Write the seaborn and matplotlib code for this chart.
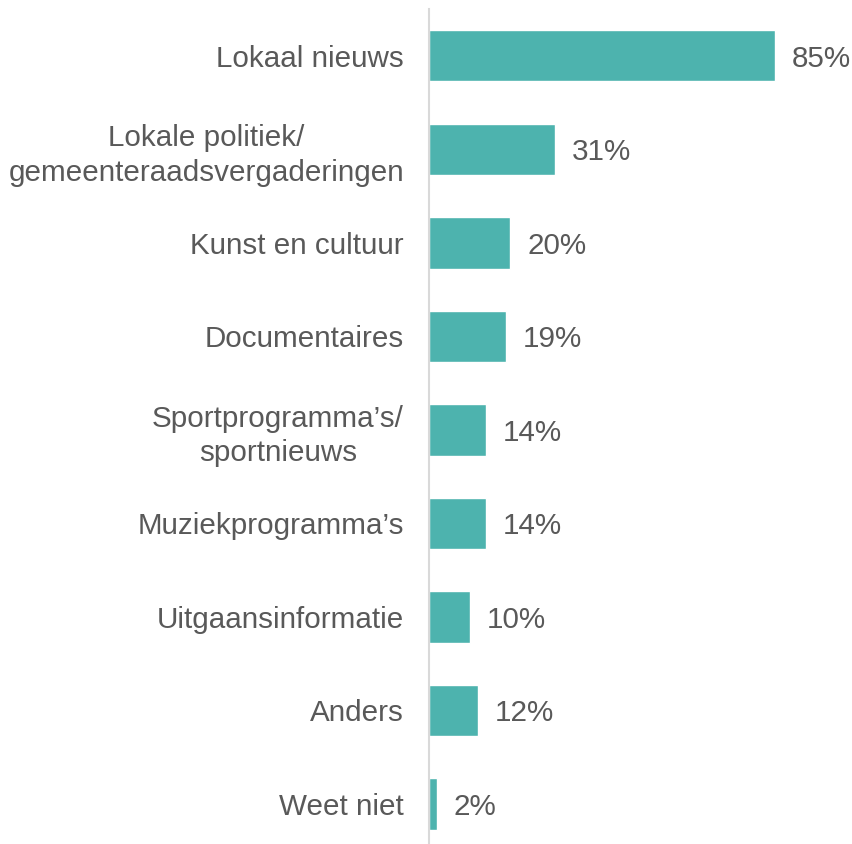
import matplotlib
matplotlib.use("Agg")
from matplotlib import pyplot as plt
import seaborn as sns
import pandas as pd

categories = ["Lokaal nieuws",
              "Lokale politiek/\ngemeenteraadsvergaderingen",
              "Kunst en cultuur",
              "Documentaires",
              "Sportprogramma\u2019s/\nsportnieuws",
              "Muziekprogramma\u2019s",
              "Uitgaansinformatie",
              "Anders",
              "Weet niet"]
values = [85, 31, 20, 19, 14, 14, 10, 12, 2]
value_labels = ["%d%%" % v for v in values]

sns.set_style("white")
plt.rcParams['font.family'] = ['Liberation Sans', 'DejaVu Sans']

df = pd.DataFrame({"cat": categories, "val": values})

fig = plt.figure(figsize=(8.53, 8.44), dpi=100)
ax = fig.add_axes([429 / 853, 0, 1 - 429 / 853, 835 / 844])
sns.barplot(data=df, x="val", y="cat", orient="h", color="#4DB3AE",
            saturation=1, width=0.55, ax=ax)

ax.set_xlim(0, 424 / 4.07)
ax.set_ylim(8 + 40 / 93.5, -0.5)
ax.set_xlabel("")
ax.set_ylabel("")
ax.set_xticks([])
for s in ["top", "right", "bottom"]:
    ax.spines[s].set_visible(False)
ax.spines["left"].set_color("#D9D9D9")
ax.spines["left"].set_linewidth(1.5)

ax.tick_params(axis="y", length=0, pad=18)
ax.set_yticks(range(len(categories)))
ax.set_yticklabels(categories, fontsize=21.3, color="#595959",
                   multialignment="center", linespacing=1.3)

for i, (v, lab) in enumerate(zip(values, value_labels)):
    ax.annotate(lab, (v, i), xytext=(12, 0), textcoords="offset points",
                va="center_baseline", ha="left", fontsize=21.3, color="#595959")

fig.savefig("out.png", dpi=100)
